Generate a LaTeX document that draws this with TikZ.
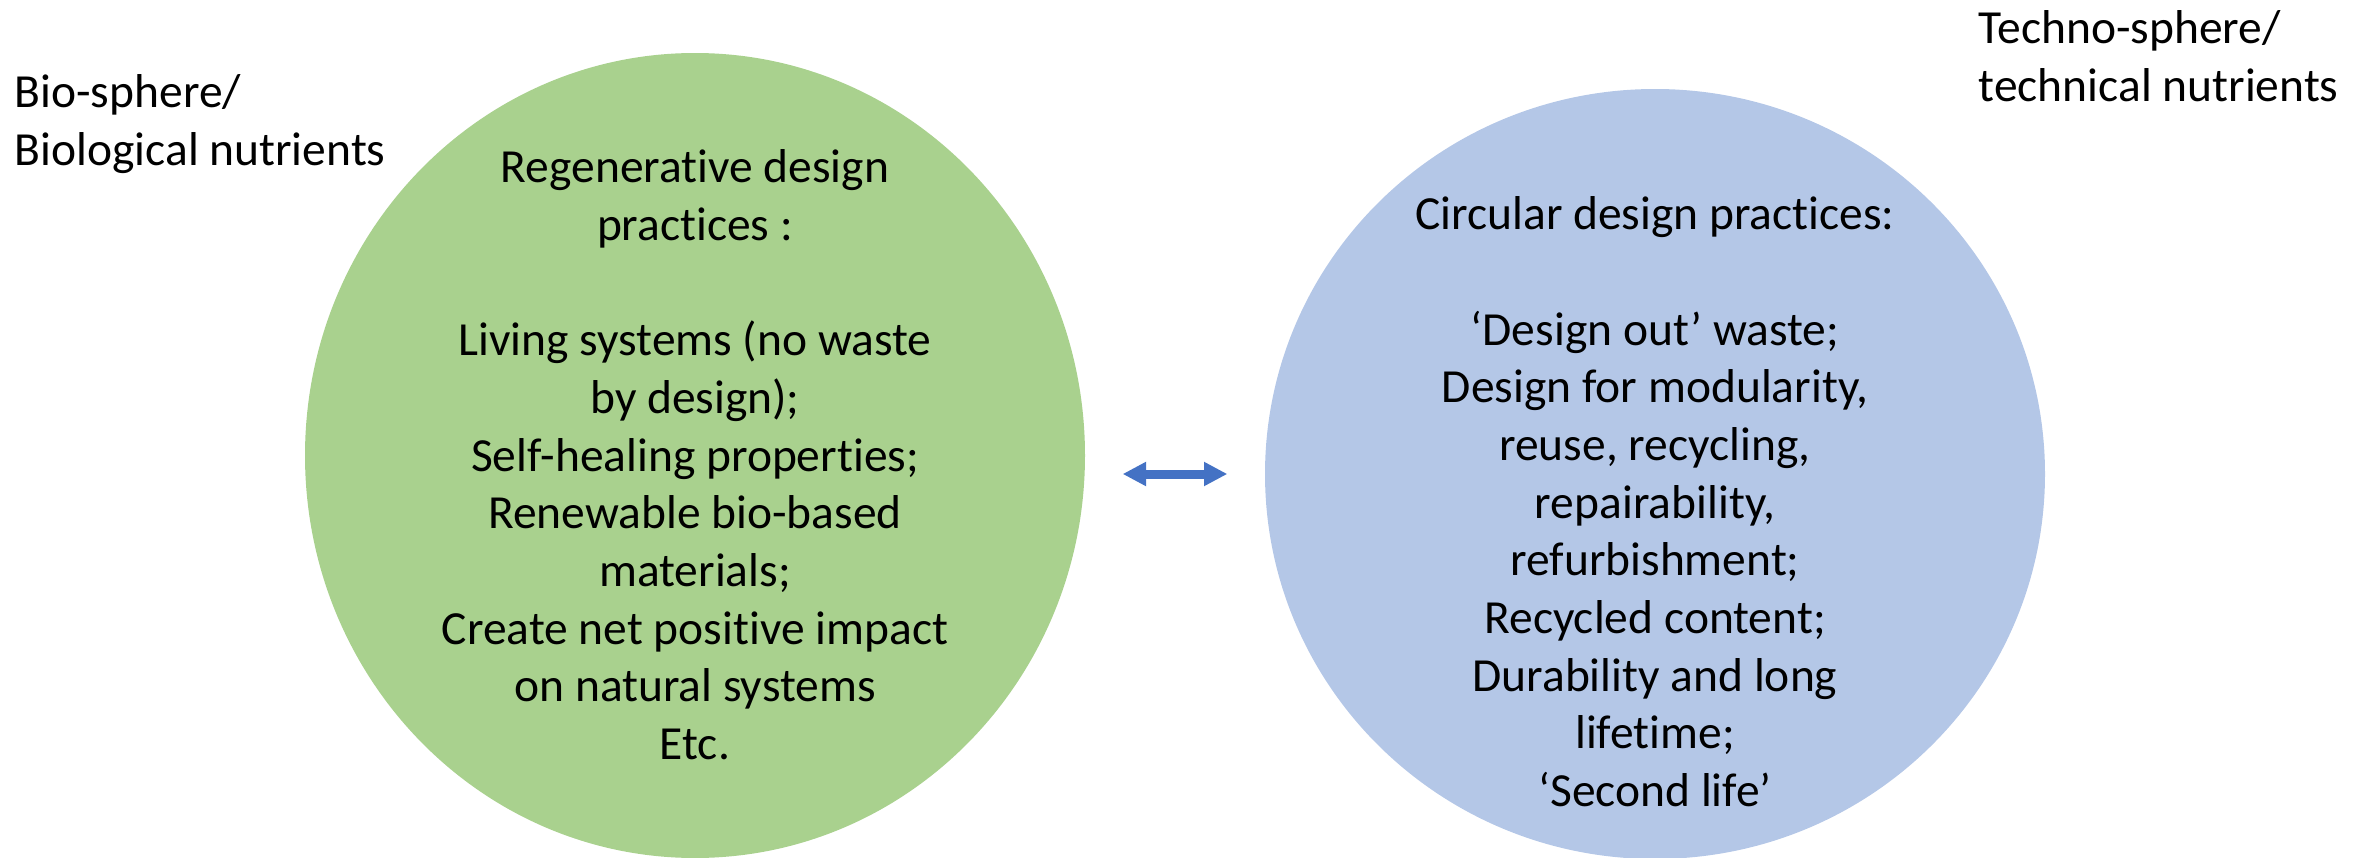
\documentclass[tikz,border=0pt]{standalone}
\usepackage{fontspec}
\setmainfont{Carlito}[Ligatures={TeX,NoCommon}]
\usetikzlibrary{shapes.geometric,arrows.meta}
\definecolor{biogreen}{HTML}{A9D18E}
\definecolor{techblue}{HTML}{B4C7E7}
\definecolor{arrowblue}{HTML}{4472C4}
\begin{document}
\begin{tikzpicture}[x=0.3pt,y=-0.3pt,
  sphere/.style={ellipse,inner sep=0pt,draw=none},
  body/.style={inner sep=0pt,anchor=base,font=\fontsize{14.25pt}{17.3pt}\selectfont},
  label/.style={inner sep=0pt,anchor=base west,font=\fontsize{14.25pt}{17.3pt}\selectfont},
  link/.style={draw=arrowblue,line width=2.7pt,
    {Triangle[length=7pt,width=6.8pt]}-{Triangle[length=7pt,width=6.8pt]},
    shorten <=11.1pt,shorten >=11.1pt}]
\useasboundingbox (0,0) rectangle (2372,858);

% the two spheres
\node[sphere,fill=biogreen,minimum width=234pt,minimum height=241.5pt] (bio) at (695,455.5) {};
\node[sphere,fill=techblue,minimum width=234pt,minimum height=231pt] (tech) at (1655,474) {};

% sphere captions
\node[label] (biolabel) at (14,108)
  {\begin{tabular}[t]{@{}l@{}}Bio-sphere/\\Biological nutrients\end{tabular}};
\node[label] (techlabel) at (1978,44)
  {\begin{tabular}[t]{@{}l@{}}Techno-sphere/\\technical nutrients\end{tabular}};

% practices
\node[body] (biotext) at (695,183)
  {\begin{tabular}[t]{@{}c@{}}Regenerative design\\practices :\\ \\
   Living systems (no waste\\by design);\\Self-healing properties;\\
   Renewable bio-based\\materials;\\Create net positive impact\\
   on natural systems\\Etc.\end{tabular}};
\node[body] (techtext) at (1655,230)
  {\begin{tabular}[t]{@{}c@{}}Circular design practices:\\ \\
   ‘Design out’ waste;\\Design for modularity,\\reuse, recycling,\\
   repairability,\\refurbishment;\\Recycled content;\\
   Durability and long\\lifetime;\\‘Second life’\end{tabular}};

% exchange between the spheres
\draw[link] (bio.east |- tech.west) -- (tech.west);
\end{tikzpicture}
\end{document}
